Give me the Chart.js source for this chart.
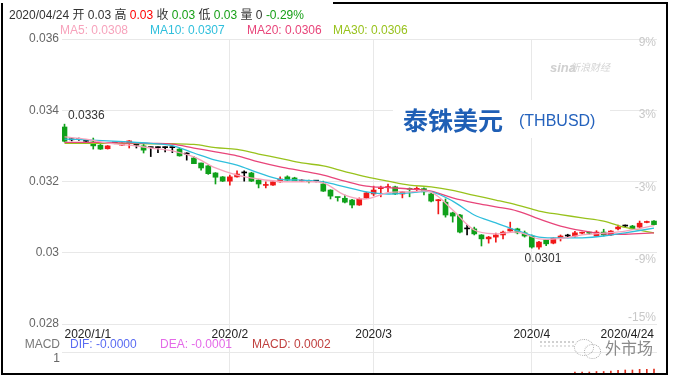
<!DOCTYPE html>
<html>
<head>
<meta charset="utf-8">
<script src="https://cdn.jsdelivr.net/npm/chart.js@4.4.1/dist/chart.umd.min.js"></script>
<style>
  body { margin: 0; background: #fff; }
  #wrap { position: relative; width: 674px; height: 377px; overflow: hidden; background: #fff;
          font-family: Arial, "Liberation Sans", "Noto Sans CJK SC", sans-serif; font-size: 12px; }
  #wrap canvas { position: absolute; left: 0; top: 0; }
  .t { position: absolute; white-space: pre; line-height: 14px; }
  .cjk { font-family: "Noto Sans CJK SC", sans-serif; }
</style>
</head>
<body>
<div id="wrap">
  <canvas id="kline" width="674" height="377"></canvas>

  <div class="t" style="left:9px;top:8px;color:#333">2020/04/24 开 0.03 高 <span style="color:#f00">0.03</span> 收 <span style="color:#18a018">0.03</span> 低 <span style="color:#18a018">0.03</span> 量 0 <span style="color:#18a018">-0.29%</span></div>

  <div class="t" style="left:60px;top:23px;color:#f7a3bc">MA5: 0.0308</div>
  <div class="t" style="left:150px;top:23px;color:#2fbfdc">MA10: 0.0307</div>
  <div class="t" style="left:247px;top:23px;color:#e8457a">MA20: 0.0306</div>
  <div class="t" style="left:333px;top:23px;color:#98c21c">MA30: 0.0306</div>

  <div class="t" style="left:550px;top:60px;color:#d0d0d0;font:italic bold 13px Arial, sans-serif">sina</div>
  <div class="t cjk" style="left:570px;top:60px;color:#d4d4d4;font-size:10px;font-style:italic">新浪财经</div>

  <div style="position:absolute;left:393px;top:100px;width:217px;height:38px;background:#fff">
    <span class="t cjk" style="left:10px;top:4px;font-size:25px;font-weight:bold;line-height:30px;color:#1f5fb5">泰铢美元</span>
    <span class="t" style="left:126px;top:11px;font-size:16px;line-height:20px;color:#2462bd">(THBUSD)</span>
  </div>

  <div style="position:absolute;left:62px;top:352px;width:595px;height:1px;background:#e8e8e8"></div>
  <div class="t" style="right:614px;top:337px;color:#777">MACD</div>
  <div class="t" style="left:70px;top:337px;color:#5a6cf2">DIF: -0.0000</div>
  <div class="t" style="left:160px;top:337px;color:#e46ae8">DEA: -0.0001</div>
  <div class="t" style="left:252px;top:337px;color:#c0403f">MACD: 0.0002</div>
  <div class="t" style="right:614px;top:351px;color:#666">1</div>

  <div style="position:absolute;left:540px;top:341px;width:34px;height:0;border-top:2px dotted #d0d0d0"></div>
  <div style="position:absolute;left:540px;top:345px;width:34px;height:0;border-top:2px dotted #e0e0e0"></div>
  <div style="position:absolute;left:574px;top:339px;width:18px;height:15px;border:1px dotted #aaa;border-radius:50%"></div>
  <div style="position:absolute;left:584px;top:344px;width:15px;height:13px;border:1px dotted #aaa;border-radius:50%"></div>
  <div class="t cjk" style="left:605px;top:337px;font-size:16px;line-height:20px;color:#8a8a8a">外市场</div>

  <div style="position:absolute;left:1px;top:3px;width:667px;height:372px;box-sizing:border-box;border:2px solid #000;border-top:none"></div>
  <div style="position:absolute;left:333px;top:2px;width:335px;height:2px;background:#000"></div>
</div>

<script>
// trading days 2020/1/1 .. 2020/4/24, index 0..82
const xTickIdx = [0, 23, 43, 65, 82];
const xTickLabels = ['2020/1/1', '2020/2', '2020/3', '2020/4', '2020/4/24'];
const priceTicks = [0.028, 0.030, 0.032, 0.034, 0.036];
const priceTickLabels = ['0.028', '0.03', '0.032', '0.034', '0.036'];
const pctTicks = [9, 3, -3, -9, -15];
const pctTickLabels = ['9%', '3%', '-3%', '-9%', '-15%'];

const opens = [
  0.03353, 0.03317, 0.03318, 0.03313, 0.03311, 0.03302, 0.03292, 0.03308, 0.03302, 0.03308,
  0.03302, 0.03300, 0.03295, 0.03295, 0.03295, 0.03295, 0.03291, 0.03277, 0.03266, 0.03252,
  0.03244, 0.03224, 0.03213, 0.03201, 0.03213, 0.03224, 0.03224, 0.03204, 0.03189, 0.03190,
  0.03199, 0.03213, 0.03210, 0.03201, 0.03203, 0.03201, 0.03193, 0.03176, 0.03156, 0.03153,
  0.03148, 0.03134, 0.03154, 0.03165, 0.03180, 0.03183, 0.03185, 0.03165, 0.03180, 0.03178,
  0.03180, 0.03165, 0.03146, 0.03142, 0.03112, 0.03106, 0.03067, 0.03067, 0.03050, 0.03039,
  0.03044, 0.03050, 0.03061, 0.03067, 0.03056, 0.03047, 0.03016, 0.03036, 0.03027, 0.03041,
  0.03047, 0.03047, 0.03055, 0.03057, 0.03047, 0.03058, 0.03050, 0.03067, 0.03075, 0.03075,
  0.03072, 0.03085, 0.03089
];
const closes = [
  0.03313, 0.03317, 0.03318, 0.03313, 0.03300, 0.03291, 0.03300, 0.03308, 0.03308, 0.03314,
  0.03302, 0.03288, 0.03295, 0.03295, 0.03295, 0.03295, 0.03272, 0.03277, 0.03250, 0.03238,
  0.03222, 0.03212, 0.03201, 0.03213, 0.03221, 0.03224, 0.03201, 0.03193, 0.03191, 0.03199,
  0.03207, 0.03204, 0.03201, 0.03204, 0.03200, 0.03201, 0.03173, 0.03159, 0.03155, 0.03142,
  0.03134, 0.03151, 0.03168, 0.03176, 0.03182, 0.03185, 0.03165, 0.03171, 0.03178, 0.03180,
  0.03171, 0.03145, 0.03149, 0.03106, 0.03103, 0.03058, 0.03067, 0.03053, 0.03039, 0.03044,
  0.03050, 0.03058, 0.03067, 0.03056, 0.03047, 0.03016, 0.03030, 0.03025, 0.03041, 0.03047,
  0.03047, 0.03056, 0.03057, 0.03055, 0.03058, 0.03050, 0.03061, 0.03072, 0.03075, 0.03067,
  0.03083, 0.03087, 0.03079
];
const highs = [
  0.03361, 0.03320, 0.03322, 0.03316, 0.03322, 0.03304, 0.03301, 0.03310, 0.03309, 0.03315,
  0.03305, 0.03305, 0.03297, 0.03297, 0.03297, 0.03297, 0.03294, 0.03281, 0.03270, 0.03252,
  0.03246, 0.03225, 0.03214, 0.03218, 0.03230, 0.03230, 0.03226, 0.03206, 0.03199, 0.03200,
  0.03213, 0.03216, 0.03212, 0.03206, 0.03204, 0.03203, 0.03201, 0.03177, 0.03156, 0.03162,
  0.03150, 0.03154, 0.03170, 0.03187, 0.03187, 0.03193, 0.03187, 0.03172, 0.03182, 0.03185,
  0.03182, 0.03167, 0.03150, 0.03151, 0.03114, 0.03108, 0.03078, 0.03072, 0.03051, 0.03046,
  0.03055, 0.03061, 0.03086, 0.03069, 0.03061, 0.03050, 0.03032, 0.03038, 0.03042, 0.03050,
  0.03052, 0.03060, 0.03058, 0.03058, 0.03062, 0.03066, 0.03062, 0.03078, 0.03078, 0.03077,
  0.03089, 0.03089, 0.03090
];
const lows = [
  0.03311, 0.03314, 0.03315, 0.03310, 0.03291, 0.03290, 0.03291, 0.03306, 0.03301, 0.03294,
  0.03294, 0.03280, 0.03270, 0.03281, 0.03283, 0.03281, 0.03271, 0.03260, 0.03250, 0.03232,
  0.03220, 0.03193, 0.03200, 0.03190, 0.03212, 0.03201, 0.03200, 0.03182, 0.03182, 0.03189,
  0.03198, 0.03202, 0.03200, 0.03200, 0.03196, 0.03199, 0.03172, 0.03151, 0.03145, 0.03140,
  0.03126, 0.03133, 0.03152, 0.03160, 0.03157, 0.03171, 0.03163, 0.03154, 0.03157, 0.03171,
  0.03162, 0.03143, 0.03109, 0.03100, 0.03086, 0.03056, 0.03050, 0.03050, 0.03019, 0.03027,
  0.03030, 0.03039, 0.03060, 0.03053, 0.03044, 0.03013, 0.03010, 0.03020, 0.03025, 0.03033,
  0.03042, 0.03044, 0.03053, 0.03052, 0.03045, 0.03047, 0.03048, 0.03064, 0.03072, 0.03066,
  0.03071, 0.03084, 0.03078
];

// moving averages at these day indices
const maIdx = [0, 3, 6, 9, 12, 15, 18, 21, 24, 27, 30, 33, 36, 39, 42, 45, 48, 51, 54, 57, 60, 63, 66, 69, 72, 75, 78, 82];
const ma5  = [0.03325, 0.03319, 0.03308, 0.03302, 0.03294, 0.03286, 0.03269, 0.03238, 0.03218, 0.03207, 0.03200, 0.03199, 0.03196, 0.03162,
              0.03151, 0.03169, 0.03171, 0.03170, 0.03120, 0.03064, 0.03053, 0.03058, 0.03039, 0.03040, 0.03050, 0.03055, 0.03061, 0.03076];
const ma10 = [0.03319, 0.03317, 0.03314, 0.03311, 0.03307, 0.03301, 0.03280, 0.03260, 0.03246, 0.03224, 0.03206, 0.03204, 0.03199, 0.03185,
              0.03171, 0.03165, 0.03168, 0.03171, 0.03145, 0.03106, 0.03084, 0.03062, 0.03044, 0.03042, 0.03042, 0.03047, 0.03056, 0.03069];
const ma20 = [0.03310, 0.03310, 0.03309, 0.03308, 0.03307, 0.03305, 0.03294, 0.03283, 0.03272, 0.03255, 0.03241, 0.03230, 0.03218, 0.03201,
              0.03187, 0.03183, 0.03179, 0.03173, 0.03154, 0.03140, 0.03129, 0.03117, 0.03095, 0.03075, 0.03062, 0.03053, 0.03052, 0.03056];
const ma30 = [0.03307, 0.03307, 0.03307, 0.03307, 0.03306, 0.03306, 0.03304, 0.03295, 0.03290, 0.03277, 0.03265, 0.03252, 0.03244, 0.03228,
              0.03213, 0.03201, 0.03190, 0.03185, 0.03175, 0.03161, 0.03148, 0.03134, 0.03117, 0.03107, 0.03098, 0.03089, 0.03071, 0.03056];

// MACD histogram, only the tops that show above the frame
const macdIdx = [71, 72, 73, 74, 75, 76, 77, 78, 79, 80, 81, 82];
const macdHist = [0.00012, 0.00012, 0.00012, 0.00013, 0.00013, 0.00014, 0.000154, 0.00016, 0.00016, 0.000174, 0.000174, 0.00018];

const UP = '#f01818', DOWN = '#0fa01a', FLAT = '#000';
const days = opens.map((_, i) => i);
const colors = days.map(i => closes[i] > opens[i] ? UP : (closes[i] < opens[i] ? DOWN : FLAT));
const maLine = (vals, color) => ({
  type: 'line', yAxisID: 'y', order: 1,
  data: maIdx.map((d, k) => ({ x: d, y: vals[k] })),
  borderColor: color, borderWidth: 1.3, pointRadius: 0, tension: 0.35, fill: false
});
// tick labels may sit right on the panel edge, no extra room for them
const noEdgePad = s => { s.paddingTop = 0; s.paddingBottom = 0; };

Chart.defaults.font.family = 'Arial, "Liberation Sans", sans-serif';
Chart.defaults.font.size = 12;

const hiLoLabels = {
  id: 'hiLoLabels',
  afterDatasetsDraw(chart) {
    const { ctx, scales } = chart;
    const hi = Math.max(...highs), lo = Math.min(...lows);
    const hiAt = highs.indexOf(hi), loAt = lows.indexOf(lo);
    ctx.save();
    ctx.font = '12px Arial, "Liberation Sans", sans-serif';
    ctx.fillStyle = '#333';
    ctx.textAlign = 'left';
    ctx.textBaseline = 'bottom';
    ctx.fillText(hi.toFixed(4), scales.x.getPixelForValue(hiAt) + 3.5, scales.y.getPixelForValue(hi) - 2);
    ctx.textAlign = 'center';
    ctx.textBaseline = 'top';
    ctx.fillText(lo.toFixed(4), scales.x.getPixelForValue(loAt) + 4, scales.y.getPixelForValue(lo) + 3);
    ctx.restore();
  }
};

new Chart(document.getElementById('kline'), {
  type: 'bar',
  data: {
    datasets: [
      maLine(ma5, '#f7a3bc'),
      maLine(ma10, '#2fbfdc'),
      maLine(ma20, '#e8457a'),
      maLine(ma30, '#98c21c'),
      {
        yAxisID: 'y', order: 2, grouped: false,
        data: days.map(i => ({ x: i, y: [Math.min(opens[i], closes[i]), Math.max(opens[i], closes[i])] })),
        backgroundColor: colors, barThickness: 5, minBarLength: 1
      },
      {
        yAxisID: 'y', order: 3, grouped: false,
        data: days.map(i => ({ x: i, y: [lows[i], highs[i]] })),
        backgroundColor: colors, barThickness: 1
      },
      {
        yAxisID: 'ym', order: 4, grouped: false,
        data: macdIdx.map((d, k) => ({ x: d, y: macdHist[k] })),
        backgroundColor: '#e0301e', barThickness: 1
      }
    ]
  },
  options: {
    responsive: false,
    devicePixelRatio: 1,
    animation: false,
    events: [],
    layout: { padding: { top: 39, bottom: 4, left: 0, right: 0 } },
    plugins: { legend: { display: false }, tooltip: { enabled: false } },
    scales: {
      x: {
        type: 'linear', min: -0.348, max: 82.418, offset: false,
        position: { y: 0.028 },
        afterBuildTicks: s => { s.ticks = xTickIdx.map(v => ({ value: v })); },
        afterFit: s => { s.height = 0; },
        grid: {
          offset: false,
          drawTicks: false,
          color: c => (c.tick && c.index > 0 && c.index < xTickIdx.length - 1) ? '#e8e8e8' : 'rgba(0,0,0,0)'
        },
        border: { display: false },
        ticks: {
          align: 'inner', autoSkip: false, maxRotation: 0, padding: 3, color: '#222',
          callback: (v, i) => xTickLabels[i]
        }
      },
      y: {
        position: 'left', min: 0.026625, max: 0.036,
        afterBuildTicks: s => { s.ticks = priceTicks.map(v => ({ value: v })); },
        afterFit: s => { s.width = 62; noEdgePad(s); },
        grid: { drawTicks: false, color: '#e8e8e8' },
        border: { display: false },
        ticks: { padding: 3, color: '#666', callback: (v, i) => priceTickLabels[i] }
      },
      yp: {
        position: 'right', min: -18.377, max: 9.272,
        // lowest label is held inside the panel, like the original
        afterBuildTicks: s => { s.ticks = pctTicks.map(v => ({ value: Math.max(v, -13.8) })); },
        afterFit: s => { s.width = 17; noEdgePad(s); },
        grid: { display: false, drawTicks: false },
        border: { display: false },
        ticks: { mirror: true, padding: -1, color: '#c8c8c8', callback: (v, i) => pctTickLabels[i] }
      },
      ym: { display: false, min: 0.0001, max: 0.00678 }
    }
  },
  plugins: [hiLoLabels]
});
</script>
</body>
</html>
